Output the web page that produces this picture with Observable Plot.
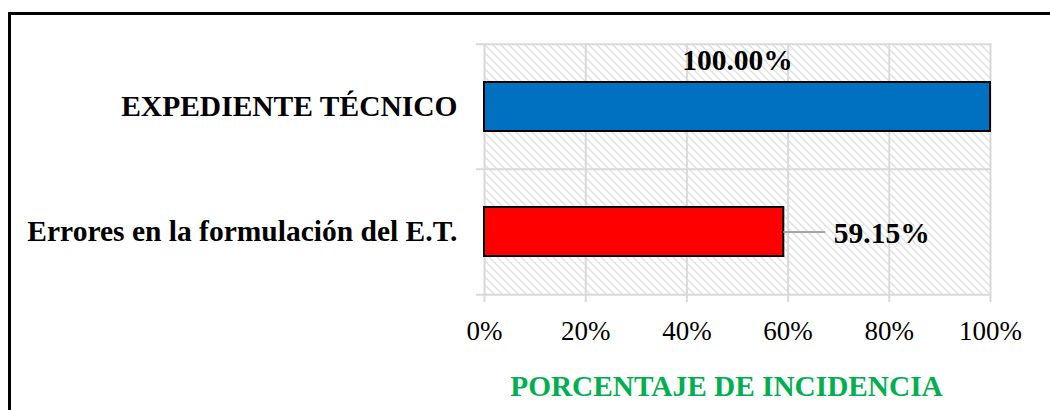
<!DOCTYPE html>
<html>
<head>
<meta charset="utf-8">
<script src="https://cdn.jsdelivr.net/npm/d3@7"></script>
<script src="https://cdn.jsdelivr.net/npm/@observablehq/plot@0.6"></script>
<style>
  html, body { margin: 0; padding: 0; background: #fff; }
  #wrap { position: relative; width: 1050px; height: 410px; overflow: hidden; background: #fff; }
  #border { position: absolute; left: 8px; top: 12px; width: 1100px; height: 450px; border: 3px solid #000; box-sizing: border-box; pointer-events: none; }
  #chart { position: absolute; left: 0; top: 0; }
</style>
</head>
<body>
<div id="wrap"><div id="chart"></div><div id="border"></div></div>
<script>
const categories = ["EXPEDIENTE TÉCNICO", "Errores en la formulación del E.T."];
const values = [100.00, 59.15];
const barColors = ["#0070C0", "#FF0000"];
const xTicks = [0, 20, 40, 60, 80, 100];
const axisTitle = "PORCENTAJE DE INCIDENCIA";

const rows = categories.map((c, i) => ({cat: c, value: values[i], color: barColors[i], i}));

const W = 1050, H = 410, mt = 43, mb = 116, ml = 484, mr = 60;
const bandH = (H - mt - mb) / categories.length;
const grid = "#d9d9d9";
const pct = d => d + "%";

const chart = Plot.plot({
  width: W, height: H,
  marginTop: mt, marginBottom: mb, marginLeft: ml, marginRight: mr,
  style: {fontFamily: "'Liberation Serif', 'Times New Roman', serif", color: "#000", background: "transparent"},
  x: {domain: [0, 100], ticks: xTicks, tickFormat: pct},
  y: {domain: categories, padding: 0},
  marks: [
    Plot.barX(categories, {x1: 0, x2: 100, y: d => d, fill: "url(#hatch)"}),
    Plot.ruleX(xTicks, {x: d => d, stroke: grid, strokeWidth: 2, insetBottom: -8}),
    Plot.ruleY(categories, {y: d => d, dy: -bandH / 2, stroke: grid, strokeWidth: 2, insetLeft: -8}),
    Plot.ruleY(categories.slice(-1), {y: d => d, dy: bandH / 2, stroke: grid, strokeWidth: 2, insetLeft: -8}),
    Plot.barX(rows, {x1: 0, x2: "value", y: "cat", fill: "color", stroke: "#000", strokeWidth: 2, insetTop: 38, insetBottom: 38}),
    Plot.ruleY(rows.filter(d => d.i === 1), {y: "cat", x1: "value", x2: "value", insetRight: -42, stroke: "#a6a6a6", strokeWidth: 2}),
    Plot.text(rows.filter(d => d.i === 0), {x: d => d.value / 2, y: "cat", text: d => d.value.toFixed(2) + "%", dy: -46, fontSize: 29.5, fontWeight: "bold", fill: "#000"}),
    Plot.text(rows.filter(d => d.i === 1), {x: "value", y: "cat", text: d => d.value.toFixed(2) + "%", dx: 50, dy: 2, textAnchor: "start", fontSize: 29.5, fontWeight: "bold", fill: "#000"}),
    Plot.axisX({ticks: xTicks, tickFormat: pct, tickSize: 0, tickPadding: 26, fontSize: 27, label: null}),
    Plot.axisY({tickSize: 0, tickPadding: 27, fontSize: 29.5, fontWeight: "bold", label: null}),
    Plot.text([axisTitle], {frameAnchor: "bottom", text: d => d, dx: -11, dy: 101, fontSize: 29.3, fontWeight: "bold", fill: "#00B050"})
  ]
});

const svgns = "http://www.w3.org/2000/svg";
const defs = document.createElementNS(svgns, "defs");
defs.innerHTML = `<pattern id="hatch" patternUnits="userSpaceOnUse" width="8" height="8">
  <rect width="8" height="8" fill="#ffffff"/>
  <path d="M-2,-2 L10,10 M-2,6 L2,10 M6,-2 L10,2" stroke="#dedede" stroke-width="1.3"/>
</pattern>`;
chart.insertBefore(defs, chart.firstChild);

document.getElementById("chart").appendChild(chart);
</script>
</body>
</html>
